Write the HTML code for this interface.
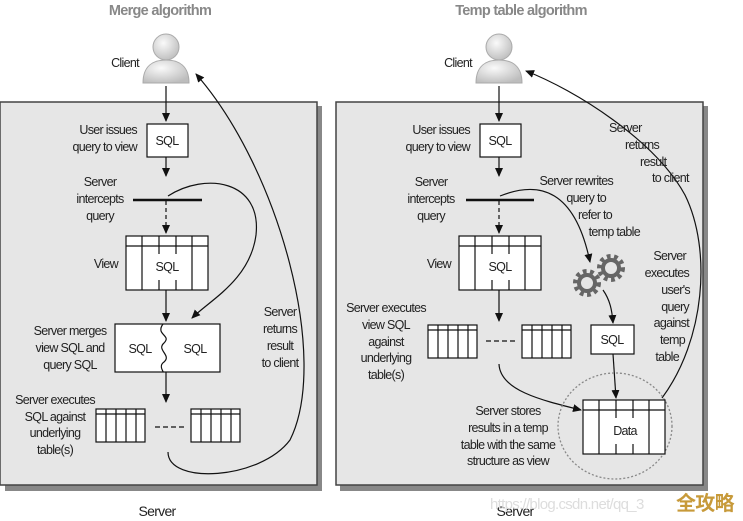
<!DOCTYPE html>
<html><head><style>
body{margin:0;background:#fff}
svg{display:block}
text{font-family:"Liberation Sans",sans-serif;font-size:12.5px;fill:#222;letter-spacing:-0.7px}
</style></head><body>
<svg width="743" height="521" viewBox="0 0 743 521">
<defs>
<marker id="a" markerWidth="10" markerHeight="10" refX="8" refY="4" orient="auto" markerUnits="userSpaceOnUse"><path d="M0,0 L9,4 L0,8 Z" fill="#111"/></marker>
<radialGradient id="g" cx="0.4" cy="0.35" r="0.7"><stop offset="0" stop-color="#fafafa"/><stop offset="1" stop-color="#bdbdbd"/></radialGradient>
<g id="client"><circle cx="0" cy="-10" r="13" fill="url(#g)" stroke="#aaa"/><path d="M-23,26 C-23,9 -13,3 0,3 C13,3 23,9 23,26 Z" fill="url(#g)" stroke="#aaa"/></g>
</defs>
<rect x="5" y="106" width="317" height="385" fill="#888"/>
<rect x="0" y="102" width="317" height="383" fill="#e6e6e6" stroke="#444" stroke-width="1.5"/>
<rect x="340" y="106" width="368" height="385" fill="#888"/>
<rect x="336" y="102" width="367" height="383" fill="#e6e6e6" stroke="#444" stroke-width="1.5"/>

<text x="160" y="15" text-anchor="middle" style="font-size:14.5px;fill:#888;font-weight:bold">Merge algorithm</text>
<text x="521" y="15" text-anchor="middle" style="font-size:14.5px;fill:#888;font-weight:bold">Temp table algorithm</text>

<g stroke="#111" fill="none" stroke-width="1.2">
<line x1="166" y1="86" x2="166" y2="121" marker-end="url(#a)"/>
<line x1="166" y1="157" x2="166" y2="176" marker-end="url(#a)"/>
<line x1="133" y1="200" x2="202" y2="200" stroke-width="2.5"/>
<line x1="166" y1="201" x2="166" y2="233" stroke-dasharray="4,3" marker-end="url(#a)"/>
<line x1="166" y1="290" x2="166" y2="321" marker-end="url(#a)"/>
<line x1="166" y1="372" x2="166" y2="402" marker-end="url(#a)"/>
<path d="M168,196 C205,172 262,180 256,235 C250,280 210,300 192,318" marker-end="url(#a)"/>
<path d="M168,452 C168,485 260,480 290,440 C330,360 280,170 196,74" marker-end="url(#a)"/>
<line x1="155" y1="427" x2="185" y2="427" stroke-dasharray="5,3"/>
<line x1="499" y1="86" x2="499" y2="121" marker-end="url(#a)"/>
<line x1="499" y1="157" x2="499" y2="176" marker-end="url(#a)"/>
<line x1="466" y1="200" x2="534" y2="200" stroke-width="2.5"/>
<line x1="499" y1="201" x2="499" y2="233" stroke-dasharray="4,3" marker-end="url(#a)"/>
<line x1="499" y1="290" x2="499" y2="321" marker-end="url(#a)"/>
<line x1="486" y1="341" x2="516" y2="341" stroke-dasharray="5,3"/>
<path d="M500,196 C540,180 575,190 590,262" marker-end="url(#a)"/>
<path d="M603,290 C610,300 612,310 613,323" marker-end="url(#a)"/>
<line x1="613" y1="354" x2="616" y2="398" marker-end="url(#a)"/>
<path d="M499,364 C500,390 540,400 581,410" marker-end="url(#a)"/>
<path d="M662,398 C705,340 712,250 685,195 C655,140 575,90 526,71" marker-end="url(#a)"/>
</g>
<ellipse cx="615" cy="426" rx="57" ry="53" fill="none" stroke="#888" stroke-width="1.3" stroke-dasharray="2,2"/>

<use href="#client" x="166" y="57"/>
<use href="#client" x="499" y="57"/>

<g stroke="#111" stroke-width="1.2" fill="#fff">
<rect x="147" y="124" width="41" height="33"/>
<rect x="480" y="124" width="41" height="33"/>
<rect x="591" y="325" width="43" height="29"/>
<rect x="115" y="324" width="105" height="48"/>
<g id="vt"><rect x="126" y="236" width="82" height="54"/><path d="M126,246 H208 M142,236 V290 M159,236 V254 M176,236 V254 M159,280 V290 M176,280 V290 M192,236 V290" fill="none"/></g>
<use href="#vt" x="333"/>
<use href="#vt" x="457" y="164"/>
<g id="st"><rect x="96" y="409" width="49" height="33"/><path d="M96,414 H145 M106,409 V442 M116,409 V442 M126,409 V442 M136,409 V442" fill="none"/></g>
<use href="#st" x="95"/>
<use href="#st" x="332" y="-84"/>
<use href="#st" x="426" y="-84"/>
</g>
<rect x="603" y="420" width="44" height="24" fill="#fff"/>
<path d="M163,324 C155,335 172,335 164,343 C156,350 172,355 164,362 C158,366 164,372 163,372" fill="none" stroke="#111" stroke-width="1.2"/>

<g fill="none" stroke="#666" stroke-width="6" stroke-dasharray="3.5,3.3">
<circle cx="587" cy="283" r="11"/><circle cx="611" cy="268" r="11"/>
</g>
<g fill="none" stroke="#666" stroke-width="4">
<circle cx="587" cy="283" r="8"/><circle cx="611" cy="268" r="8"/>
</g>

<g text-anchor="middle">
<text x="167" y="145">SQL</text><text x="500" y="145">SQL</text>
<text x="167" y="271">SQL</text><text x="500" y="271">SQL</text>
<text x="140" y="353">SQL</text><text x="195" y="353">SQL</text>
<text x="612" y="344">SQL</text>
<text x="625" y="435">Data</text>
<text x="157" y="516" style="font-size:14px">Server</text>
<text x="515" y="516" style="font-size:14px">Server</text>
<text x="125" y="67" >Client</text><text x="458" y="67">Client</text>
<text x="100" y="186">Server</text><text x="100" y="203">intercepts</text><text x="100" y="220">query</text>
<text x="431" y="186">Server</text><text x="431" y="203">intercepts</text><text x="431" y="220">query</text>
<text x="70" y="335">Server merges</text><text x="70" y="352">view SQL and</text><text x="70" y="369">query SQL</text>
<text x="55" y="404">Server executes</text><text x="55" y="421">SQL against</text><text x="55" y="437">underlying</text><text x="55" y="454">table(s)</text>
<text x="280" y="316">Server</text><text x="280" y="333">returns</text><text x="280" y="350">result</text><text x="280" y="367">to client</text>
<text x="386" y="312">Server executes</text><text x="386" y="329">view SQL</text><text x="386" y="346">against</text><text x="386" y="362">underlying</text><text x="386" y="379">table(s)</text>
<text x="508" y="415">Server stores</text><text x="508" y="432">results in a temp</text><text x="508" y="449">table with the same</text><text x="508" y="465">structure as view</text>
</g>
<g text-anchor="end">
<text x="137" y="134">User issues</text><text x="137" y="151">query to view</text>
<text x="470" y="134">User issues</text><text x="470" y="151">query to view</text>
<text x="118" y="268">View</text><text x="451" y="268">View</text>
<text x="613" y="185">Server rewrites</text><text x="606" y="202">query to</text><text x="612" y="219">refer to</text><text x="640" y="236">temp table</text>
<text x="686" y="260">Server</text><text x="689" y="277">executes</text><text x="690" y="294">user's</text><text x="689" y="311">query</text><text x="689" y="327">against</text><text x="685" y="344">temp</text><text x="679" y="361">table</text>
</g>
<g>
<text x="609" y="132">Server</text><text x="625" y="149">returns</text><text x="640" y="166">result</text><text x="652" y="182">to client</text>
</g>
<text x="490" y="509" style="font-size:15px;fill:#ddd">https://blog.csdn.net/qq_3</text>
<text x="676" y="510" style="font-size:20px;fill:#c79a3a;font-weight:bold;font-family:'Noto Sans CJK SC',sans-serif">全攻略</text>
</svg>
</body></html>
